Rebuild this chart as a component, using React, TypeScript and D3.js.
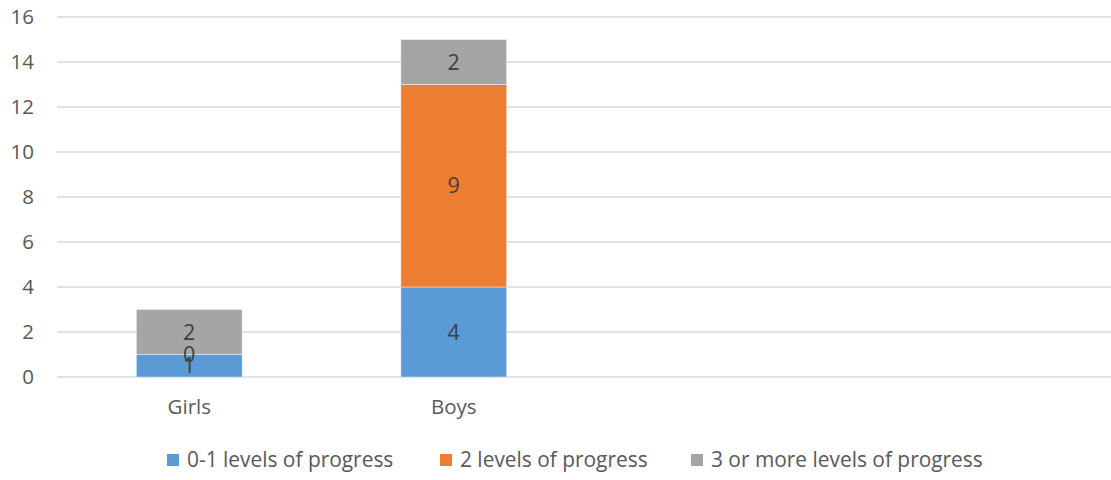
import React from "react";
import * as d3 from "d3";

const categories = ["Girls", "Boys", "", " "];
const seriesNames = ["0-1 levels of progress", "2 levels of progress", "3 or more levels of progress"];
const seriesColors = ["#5B9BD5", "#ED7D31", "#A5A5A5"];
const low = [1, 4, null, null];
const mid = [0, 9, null, null];
const high = [2, 2, null, null];
const yTicks = [0, 2, 4, 6, 8, 10, 12, 14, 16];

const W = 1111;
const H = 480;
const FONT = "'Open Sans', 'Noto Sans', sans-serif";

export default function App() {
  const x = d3.scaleBand<string>().domain(categories).range([57, 1115]).paddingInner(0.6).paddingOuter(0.3);
  const y = d3.scaleLinear().domain([0, 16]).range([377, 17]);
  const seriesVals = [low, mid, high];
  const rows = categories.map((c, i) => ({ cat: c, low: low[i], mid: mid[i], high: high[i] }));
  const valid = rows.filter((r) => r.low !== null);
  const stack = d3.stack<any>().keys(["low", "mid", "high"])(valid as any);

  const legendX = [167, 440, 691];

  return (
    <svg width={W} height={H} style={{ position: "absolute", left: 0, top: 0, background: "#fff" }} fontFamily={FONT}>
      <rect x={0} y={0} width={W} height={H} fill="#fff" />
      {yTicks.map((t) => (
        <g key={t}>
          <line x1={57} x2={W} y1={y(t)} y2={y(t)} stroke="#d9d9d9" strokeWidth={1.3} />
          <text x={34} y={y(t)} dy="0.36em" textAnchor="end" fontSize={20.5} fill="#595959">
            {t}
          </text>
        </g>
      ))}
      {stack.map((layer, si) =>
        layer.map((d, i) => {
          const cat = (d.data as any).cat;
          const x0 = x(cat)!;
          const y0 = y(d[1]);
          const y1 = y(d[0]);
          return (
            <rect key={si + "-" + i} x={x0} y={y0} width={x.bandwidth()} height={Math.max(0, y1 - y0)} fill={seriesColors[si]} stroke="#ffffff" strokeOpacity={0.5} strokeWidth={0.8} />
          );
        })
      )}
      {stack.map((layer, si) =>
        layer.map((d, i) => {
          const cat = (d.data as any).cat;
          const cx = x(cat)! + x.bandwidth() / 2;
          const cy = y((d[0] + d[1]) / 2);
          return (
            <text key={"l" + si + "-" + i} x={cx} y={cy} dy="0.36em" textAnchor="middle" fontSize={21.5} fill="#404040">
              {seriesVals[si][categories.indexOf(cat)]}
            </text>
          );
        })
      )}
      {categories.map((c) => (
        <text key={"c" + c} x={x(c)! + x.bandwidth() / 2} y={414} textAnchor="middle" fontSize={20.5} fill="#595959">
          {c.trim()}
        </text>
      ))}
      {seriesNames.map((s, i) => (
        <g key={s}>
          <rect x={legendX[i]} y={454} width={12} height={12} fill={seriesColors[i]} />
          <text x={legendX[i] + 20} y={467} fontSize={20.9} fill="#595959">
            {s}
          </text>
        </g>
      ))}
    </svg>
  );
}
